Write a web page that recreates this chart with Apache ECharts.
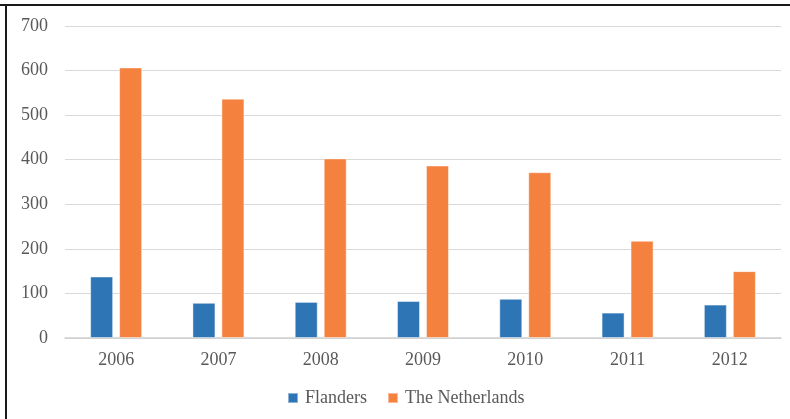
<!DOCTYPE html>
<html>
<head>
<meta charset="utf-8">
<script src="https://cdn.jsdelivr.net/npm/echarts@6/dist/echarts.min.js"></script>
<style>
  html, body { margin: 0; padding: 0; background: #fff; }
  #chart { width: 790px; height: 419px; }
</style>
</head>
<body>
<div id="chart"></div>
<script>
// data
var years = ['2006', '2007', '2008', '2009', '2010', '2011', '2012'];
var flanders = [138, 79, 81, 83, 88, 57, 75];
var netherlands = [607, 537, 403, 387, 372, 218, 150];
var yTicks = { min: 0, max: 700, interval: 100 };

var textGray = '#595959';
var font = 'Liberation Serif';

var myChart = echarts.init(document.getElementById('chart'));

myChart.setOption({
    animation: false,
    backgroundColor: '#fff',
    textStyle: { fontFamily: font },
    grid: { left: 65, right: 9, top: 26, bottom: 81 },
    legend: {
        left: 287,
        top: 389,
        padding: 0,
        itemWidth: 10,
        itemHeight: 10,
        itemGap: 20,
        icon: 'rect',
        textStyle: { color: textGray, fontSize: 18, fontFamily: font, padding: [0, 0, 0, 2] },
        data: ['Flanders', 'The Netherlands']
    },
    xAxis: {
        type: 'category',
        data: years,
        axisLine: { lineStyle: { color: '#d0d0d0', width: 1.5 } },
        axisTick: { show: false },
        axisLabel: { color: textGray, fontSize: 18, fontFamily: font, margin: 13 }
    },
    yAxis: {
        type: 'value',
        min: yTicks.min,
        max: yTicks.max,
        interval: yTicks.interval,
        axisLine: { show: false },
        axisTick: { show: false },
        axisLabel: { color: textGray, fontSize: 18, fontFamily: font, margin: 17 },
        splitLine: { lineStyle: { color: '#d9d9d9', width: 1 } }
    },
    series: [
        {
            name: 'Flanders',
            type: 'bar',
            data: flanders,
            barWidth: 23,
            barGap: '26%',
            itemStyle: { color: '#2e75b6', borderColor: 'rgba(255,255,255,0.45)', borderWidth: 1 }
        },
        {
            name: 'The Netherlands',
            type: 'bar',
            data: netherlands,
            barWidth: 23,
            itemStyle: { color: '#f4813e', borderColor: 'rgba(255,255,255,0.45)', borderWidth: 1 }
        }
    ],
    graphic: [
        // frame lines at top and left
        { type: 'line', shape: { x1: 0, y1: 5, x2: 790, y2: 5 }, style: { stroke: '#1a1a1a', lineWidth: 2 } },
        { type: 'line', shape: { x1: 6, y1: 4, x2: 6, y2: 419 }, style: { stroke: '#1a1a1a', lineWidth: 2 } }
    ]
});
</script>
</body>
</html>
